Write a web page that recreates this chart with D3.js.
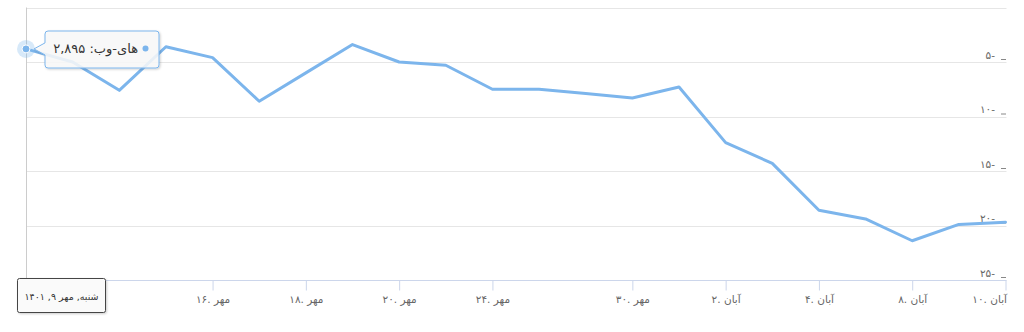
<!DOCTYPE html>
<html lang="fa">
<head>
<meta charset="utf-8">
<title>رتبه</title>
<script src="https://cdn.jsdelivr.net/npm/d3@7"></script>
<style>
  body { margin: 0; background: #fff; }
  svg { display: block; font-family: "DejaVu Sans", "Noto Sans", sans-serif; }
  .grid line { stroke: #e6e6e6; stroke-width: 1; }
  .line { fill: none; stroke: #7cb5ec; stroke-width: 3; stroke-linejoin: round; stroke-linecap: round; }
</style>
</head>
<body>
<script>
// chart values (y axis units)
var seriesName = "های-وب";
var pointValues = [-3.8, -5.0, -7.6, -3.6, -4.6, -8.6, -6.0, -3.4, -5.0, -5.3, -7.5,
                   -7.5, -7.9, -8.3, -7.3, -12.4, -14.3, -18.6, -19.4, -21.4, -19.9, -19.7];
var tickIndex = [4, 6, 8, 10, 13, 15, 17, 19, 21];
var tickLabels = ["۱۶. مهر", "۱۸. مهر", "۲۰. مهر", "۲۴. مهر", "۳۰. مهر",
                  "۲. آبان", "۴. آبان", "۸. آبان", "۱۰. آبان"];
var yTicks = [0, -5, -10, -15, -20, -25];
var yTickLabels = ["", "-۵", "-۱۰", "-۱۵", "-۲۰", "-۲۵"];
var hoverIndex = 0;
var hoverValueText = "۲,۸۹۵";
var hoverDateText = "شنبه, مهر ۹, ۱۴۰۱";

var w = 1024, h = 332;
var plotLeft = 26, plotRight = 1005.5, plotTop = 7.5, plotBottom = 280;

var svg = d3.select("body").append("svg")
  .attr("width", w).attr("height", h);

var xScale = d3.scalePoint()
  .domain(d3.range(pointValues.length))
  .range([plotLeft, plotRight]);

var yScale = d3.scaleLinear()
  .domain([0, -25])
  .range([plotTop, plotBottom]);

// gridlines
svg.append("g").attr("class", "grid")
  .selectAll("line").data(yTicks).enter().append("line")
  .attr("x1", plotLeft).attr("x2", plotRight + 1)
  .attr("y1", function(d){ return Math.round(yScale(d)) + 0.5; })
  .attr("y2", function(d){ return Math.round(yScale(d)) + 0.5; });

// y labels on the right
var yl = svg.append("g");
yl.selectAll("text").data(yTicks).enter().append("text")
  .attr("x", 995)
  .attr("y", function(d){ return yScale(d) - 3.5; })
  .attr("text-anchor", "end")
  .attr("font-size", 10.5)
  .attr("fill", "#666")
  .text(function(d, i){ return yTickLabels[i] ? "\u200F" + yTickLabels[i] : ""; });
yl.selectAll("line").data(yTicks.slice(1)).enter().append("line")
  .attr("x1", 1001).attr("x2", 1006)
  .attr("y1", function(d){ return yScale(d) - 2.5; })
  .attr("y2", function(d){ return yScale(d) - 2.5; })
  .attr("stroke", "#888").attr("stroke-width", 1);

// x axis
var xAxis = d3.axisBottom(xScale)
  .tickValues(tickIndex)
  .tickSize(10)
  .tickPadding(5)
  .tickFormat(function(d){ return tickLabels[tickIndex.indexOf(d)]; });

var gx = svg.append("g")
  .attr("transform", "translate(0," + (plotBottom + 0.5) + ")")
  .call(xAxis);
gx.select(".domain").attr("stroke", "#ccd6eb").attr("d", "M" + plotLeft + ",0H" + (plotRight + 1));
gx.selectAll(".tick line").attr("stroke", "#ccd6eb");
gx.selectAll(".tick text").attr("fill", "#666").attr("font-size", 10.5)
  .attr("font-family", "\"DejaVu Sans\", sans-serif");
// keep the last label inside the chart, as the reference does
gx.selectAll(".tick").filter(function(d){ return d === tickIndex[tickIndex.length - 1]; })
  .select("text").attr("text-anchor", "end").attr("x", 1);

// crosshair
svg.append("line")
  .attr("x1", xScale(hoverIndex) + 0.5).attr("x2", xScale(hoverIndex) + 0.5)
  .attr("y1", plotTop).attr("y2", plotBottom)
  .attr("stroke", "#cccccc").attr("stroke-width", 1);

// line
var line = d3.line()
  .x(function(d, i){ return xScale(i); })
  .y(function(d){ return yScale(d); });

svg.append("path")
  .datum(pointValues)
  .attr("class", "line")
  .attr("d", line);

// hovered point
var hx = xScale(hoverIndex), hy = yScale(pointValues[hoverIndex]);
svg.append("circle").attr("cx", hx).attr("cy", hy).attr("r", 9)
  .attr("fill", "#7cb5ec").attr("opacity", 0.3);
svg.append("circle").attr("cx", hx).attr("cy", hy).attr("r", 4)
  .attr("fill", "#7cb5ec").attr("stroke", "#fff").attr("stroke-width", 1);

// shadow filter
var defs = svg.append("defs");
var f = defs.append("filter").attr("id", "sh").attr("x", "-20%").attr("y", "-20%")
  .attr("width", "150%").attr("height", "160%");
f.append("feDropShadow").attr("dx", 1).attr("dy", 1).attr("stdDeviation", 1.2)
  .attr("flood-color", "#000").attr("flood-opacity", 0.2);

// tooltip
var bx = 45, by = 31, bw = 114, bh = 37;
var tip = svg.append("g");
tip.append("path")
  .attr("d", "M" + (bx + 3) + "," + by + "H" + (bx + bw - 3) + "Q" + (bx + bw) + "," + by + " " + (bx + bw) + "," + (by + 3)
    + "V" + (by + bh - 3) + "Q" + (bx + bw) + "," + (by + bh) + " " + (bx + bw - 3) + "," + (by + bh)
    + "H" + (bx + 3) + "Q" + bx + "," + (by + bh) + " " + bx + "," + (by + bh - 3)
    + "V" + (hy + 6) + "L" + (hx + 8) + "," + hy + "L" + bx + "," + (hy - 6)
    + "V" + (by + 3) + "Q" + bx + "," + by + " " + (bx + 3) + "," + by + "Z")
  .attr("fill", "rgba(250,250,250,0.85)")
  .attr("stroke", "#7cb5ec").attr("stroke-width", 1)
  .attr("filter", "url(#sh)");
tip.append("circle").attr("cx", 145.5).attr("cy", 48.5).attr("r", 3).attr("fill", "#7cb5ec");
tip.append("text")
  .attr("x", 138).attr("y", 53)
  .attr("text-anchor", "end")
  .attr("font-size", 13)
  .attr("fill", "#333")
  .text(seriesName + ": " + hoverValueText);

// date label at bottom
var dl = svg.append("g");
dl.append("rect")
  .attr("x", 17.5).attr("y", 278.5).attr("width", 88).attr("height", 34).attr("rx", 2)
  .attr("fill", "#fafafa").attr("stroke", "#444").attr("stroke-width", 1)
  .attr("filter", "url(#sh)");
dl.append("text")
  .attr("x", 61.5).attr("y", 299.5)
  .attr("text-anchor", "middle")
  .attr("font-size", 9.5)
  .attr("fill", "#333")
  .text(hoverDateText);
</script>
</body>
</html>
